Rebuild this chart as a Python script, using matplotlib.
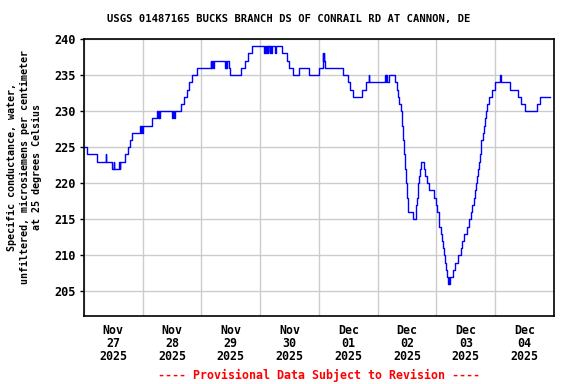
import matplotlib
matplotlib.use("Agg")
import matplotlib.pyplot as plt
import pandas as pd

# hours after 2025-11-27 00:00 where the reading changes, and the new reading
hours = [0.0, 1.3, 5.4, 8.8, 9.0, 11.3, 12.1, 12.4, 14.4, 14.6, 14.8,
         16.6, 17.8, 18.6, 19.7, 22.9, 23.1, 23.4, 23.7, 24.0,
         27.9, 30.0, 30.2, 30.5, 30.8, 31.0, 35.8, 36.2, 36.6, 37.2,
         39.8, 41.0, 42.2, 42.9, 44.3, 46.0,
         51.7, 52.0, 52.3, 52.6, 53.0, 57.6, 57.9, 58.2, 58.5, 59.2, 59.6,
         64.1, 65.8, 67.1, 68.8,
         73.5, 73.8, 74.3, 74.6, 75.0, 75.3, 75.8, 76.1, 76.6, 76.9, 78.0, 78.4,
         80.8, 82.8, 83.9, 85.2, 87.9, 92.0, 96.0,
         97.6, 97.8, 98.0, 98.2, 98.6,
         105.9, 107.8, 108.8, 110.0, 113.7, 115.3, 116.4, 116.6,
         123.0, 123.2, 123.5, 123.8, 124.4, 126.9,
         128.0, 128.4, 128.8, 129.5, 129.8, 129.9, 130.2, 130.6, 131.0,
         131.4, 131.8, 132.1, 132.5, 134.5, 135.5, 135.9, 136.3, 136.7,
         137.1, 137.7, 138.8, 139.4, 140.0, 141.1, 143.1, 143.8, 144.3,
         144.9, 145.1, 145.7, 146.1, 146.8, 147.2, 147.6, 147.9, 148.2,
         148.8, 149.0, 149.2, 149.6, 150.9, 151.7, 152.8, 153.9, 154.4,
         155.2, 156.6, 157.4, 158.0, 158.6, 159.2, 159.9, 160.1, 160.4,
         160.8, 161.2, 161.6, 162.1, 162.3, 163.0, 163.3, 163.7, 164.1,
         164.6, 165.6, 166.7, 167.8, 170.1, 170.3,
         174.2, 177.2, 178.5, 180.2, 185.2, 186.3, 190.4]
values = [225, 224, 223, 224, 223, 222, 223, 222, 223, 222, 223,
          224, 225, 226, 227, 228, 227, 228, 227, 228,
          229, 230, 229, 230, 229, 230, 229, 230, 229, 230,
          231, 232, 233, 234, 235, 236,
          237, 236, 237, 236, 237, 236, 237, 236, 237, 236, 235,
          236, 237, 238, 239,
          238, 239, 238, 239, 238, 239, 238, 239, 238, 239, 238, 239,
          238, 237, 236, 235, 236, 235, 236,
          238, 237, 238, 237, 236,
          235, 234, 233, 232, 233, 234, 235, 234,
          235, 234, 235, 234, 235, 234,
          233, 232, 231, 230, 229, 228, 226, 224, 222,
          220, 219, 218, 216, 215, 217, 218, 220, 221,
          222, 223, 222, 221, 220, 219, 218, 217, 216,
          215, 214, 213, 212, 211, 210, 209, 208, 207,
          206, 207, 206, 207, 208, 209, 210, 211, 212,
          213, 214, 215, 216, 217, 218, 219, 220, 221,
          222, 223, 224, 225, 226, 227, 228, 229, 230,
          231, 232, 233, 234, 235, 234,
          233, 232, 231, 230, 231, 232, 232]

day_labels = ["Nov\n27\n2025", "Nov\n28\n2025", "Nov\n29\n2025", "Nov\n30\n2025",
              "Dec\n01\n2025", "Dec\n02\n2025", "Dec\n03\n2025", "Dec\n04\n2025"]
y_ticks = [205, 210, 215, 220, 225, 230, 235, 240]

start = pd.Timestamp("2025-11-27")
times = start + pd.to_timedelta(hours, unit="h")

mono = "DejaVu Sans Mono"

fig = plt.figure(figsize=(5.76, 3.84), dpi=100)
ax = fig.add_axes([0.1458, 0.1771, 0.8160, 0.7213])

ax.step(times, values, where="post", color="#0000ff", linewidth=1.0)

midnights = pd.date_range(start, periods=9, freq="D")
noons = midnights[:-1] + pd.Timedelta(hours=12)
ax.set_xlim(midnights[0], midnights[-1])
ax.set_xticks(midnights)
ax.set_xticklabels([])
ax.set_xticks(noons, minor=True)
ax.set_xticklabels(day_labels, minor=True, fontfamily=mono, fontweight="bold", fontsize=8.4,
                   linespacing=1.0)
ax.tick_params(axis="x", which="major", length=0)
ax.tick_params(axis="x", which="minor", length=0, pad=6)

ax.set_ylim(201.6, 240)
ax.set_yticks(y_ticks)
ax.set_yticklabels([str(v) for v in y_ticks], fontfamily=mono, fontweight="bold", fontsize=8.6)
ax.tick_params(axis="y", length=3, width=1, pad=3)

ax.grid(True, which="major", color="#cccccc", linewidth=1)
ax.set_axisbelow(True)
for s in ax.spines.values():
    s.set_linewidth(1.2)
    s.set_color("black")

fig.text(0.043, 0.566, "Specific conductance, water,\nunfiltered, microsiemens per centimeter\nat 25 degrees Celsius",
         rotation=90, ha="center", va="center", multialignment="center",
         fontfamily=mono, fontweight="bold", fontsize=7.2, linespacing=1.3)

fig.text(0.502, 0.950, "USGS 01487165 BUCKS BRANCH DS OF CONRAIL RD AT CANNON, DE",
         ha="center", va="center", fontfamily=mono, fontweight="bold", fontsize=7.6)
fig.text(0.5535, 0.023, "---- Provisional Data Subject to Revision ----",
         ha="center", va="center", fontfamily=mono, fontweight="bold", fontsize=8.4, color="red")

fig.savefig("out.png", dpi=100)
